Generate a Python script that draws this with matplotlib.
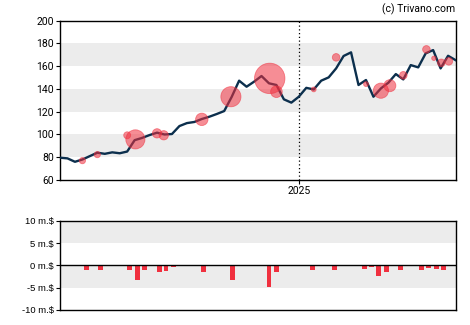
import matplotlib
matplotlib.use("Agg")
import matplotlib.pyplot as plt
import matplotlib.dates as mdates
import pandas as pd

# weekly closing prices
prices = [79.6, 79, 76, 78, 81, 84, 83, 84.3, 83.5, 85, 95, 97, 99.5, 101.6, 100,
          100.4, 107.4, 110, 111, 113.6, 115.6, 118, 120.6, 133, 147.3, 142, 146.4,
          151.4, 145, 143.5, 130.9, 128, 133.2, 141, 139.6, 147.3, 150.2, 158.1, 169,
          172.2, 143.5, 147.9, 133.2, 140.5, 145.5, 153.1, 148.4, 161, 159, 171.3,
          174.2, 158.1, 169.2, 165.4]
dates = pd.date_range("2024-05-22", periods=len(prices), freq="7D")

# insider trades (bubble position in weeks from start, price, size)
trade_week = [3.0, 5.0, 9.0, 10.1, 13.0, 13.9, 19.0, 22.9, 28.1, 29.0, 34.0, 37.0,
              41.0, 43.0, 44.2, 46.0, 49.1, 50.1, 51.1, 52.1]
trade_price = [77, 82.3, 99.3, 95.7, 101, 99.3, 113.3, 133.2, 149.3, 137.6, 139.6,
               167.8, 144.3, 138.5, 142.9, 152, 174.8, 167, 163, 164.3]
trade_size = [20, 20, 25, 190, 45, 45, 80, 210, 480, 70, 12, 30, 12, 120, 75, 30, 30,
              10, 30, 30]

# weekly net insider volume (m.$)
vol_week = [3.5, 5.4, 9.3, 10.4, 11.3, 13.3, 14.2, 15.2, 19.2, 23.1, 28.0, 29.0, 33.8,
            36.8, 40.8, 41.7, 42.7, 43.7, 45.6, 48.5, 49.4, 50.5, 51.4]
vol_value = [-1, -1, -1, -3.2, -1, -1.4, -1.2, -0.3, -1.4, -3.2, -4.8, -1.6, -1, -1,
             -0.75, -0.3, -2.3, -1.6, -1, -1, -0.5, -0.75, -1]

line_col = "#0c2f4d"
red = "#f0303f"
band = "#ececec"

fig = plt.figure(figsize=(4.7, 3.25), dpi=100)
ax = fig.add_axes([0.1277, 0.4462, 0.8415, 0.490])
ax2 = fig.add_axes([0.1277, 0.0462, 0.8415, 0.2748])

start = dates[0]
x0 = mdates.date2num(dates[0])
x1 = mdates.date2num(dates[-1])

for lo in (80, 120, 160):
    ax.axhspan(lo, lo + 20, color=band, zorder=0, lw=0)
ax.plot(dates, prices, color=line_col, lw=1.7, zorder=3)
tx = [start + pd.Timedelta(days=7 * w) for w in trade_week]
ax.scatter(tx, trade_price, s=trade_size, color=red, alpha=0.55, edgecolors=red,
           linewidths=0.6, zorder=4)
y2025 = pd.Timestamp("2025-01-01")
ax.axvline(y2025, color="black", lw=0.9, ls=(0, (1, 2)), zorder=2)
ax.set_xlim(x0, x1)
ax.set_ylim(60, 200)
ax.set_yticks(range(60, 201, 20))
ax.set_xticks([mdates.date2num(y2025)])
ax.set_xticklabels(["2025"])
ax.tick_params(labelsize=7.5, length=3, width=0.8, pad=1.5)
for lbl in ax.get_yticklabels() + ax.get_xticklabels():
    lbl.set_family("Roboto")
for s in ax.spines.values():
    s.set_linewidth(1)

ax2.axhspan(5, 10, color=band, zorder=0, lw=0)
ax2.axhspan(-5, 0, color=band, zorder=0, lw=0)
vx = [start + pd.Timedelta(days=7 * w) for w in vol_week]
ax2.bar(vx, vol_value, width=4.6, color=red, zorder=3)
ax2.axhline(0, color="black", lw=1, zorder=4)
ax2.set_xlim(x0, x1)
ax2.set_ylim(-10, 10)
ax2.set_yticks([-10, -5, 0, 5, 10])
ax2.set_yticklabels(["-10 m.$", "-5 m.$", "0 m.$", "5 m.$", "10 m.$"])
ax2.set_xticks([])
ax2.tick_params(labelsize=6.8, length=3, width=0.8, pad=1.5)
for lbl in ax2.get_yticklabels():
    lbl.set_family("Liberation Sans")
for s in ax2.spines.values():
    s.set_linewidth(1)

fig.text(0.968, 0.972, "(c) Trivano.com", ha="right", va="center", fontsize=7.5,
         family="Roboto")

fig.savefig("out.png", dpi=100)
